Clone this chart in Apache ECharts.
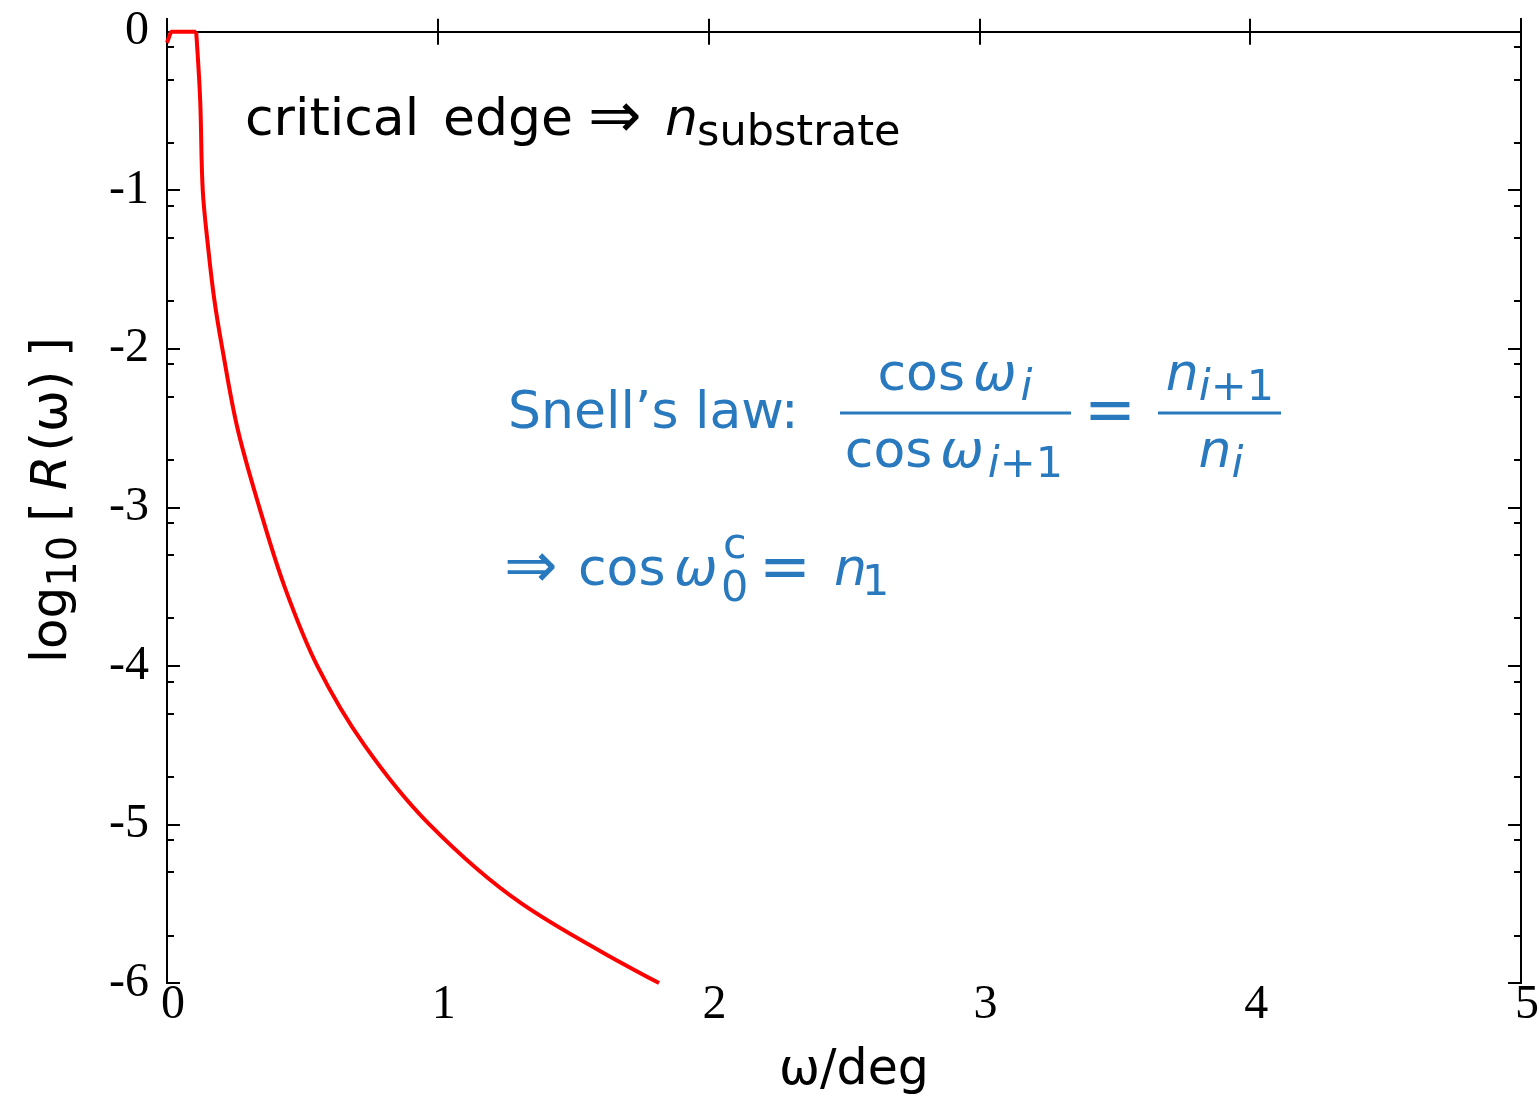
<!DOCTYPE html>
<html>
<head>
<meta charset="utf-8">
<title>Reflectivity near the critical edge</title>
<script src="https://cdn.jsdelivr.net/npm/echarts@6/dist/echarts.min.js"></script>
<style>
  html, body { margin: 0; padding: 0; background: #ffffff; }
  #chart { width: 1539px; height: 1101px; }
</style>
</head>
<body>
<div id="chart"></div>
<script>
// Reflectivity curve: incidence angle (deg) and log10 of the reflectivity
const omegaDeg = [0, 0.015, 0.1077, 0.1225, 0.132, 0.153, 0.175, 0.204, 0.26, 0.341, 0.434, 0.555, 0.729, 0.969, 1.31, 1.817];
const logR     = [-0.07, 0, 0, -0.431, -1.0, -1.378, -1.693, -1.996, -2.5, -3.0, -3.5, -4.0, -4.5, -5.0, -5.5, -6.0];
const edgeIndex = 2;   // last point of the total-reflection plateau

// Axis ticks
const xTicks = [0, 1, 2, 3, 4, 5];
const yTicks = [0, -1, -2, -3, -4, -5, -6];
const yMinorFactors = [0.8, 0.5, 0.2];   // minor ticks inside each decade
const yMax = 0.08;

const yMinorTicks = [];
yTicks.slice(0, -1).forEach(d => yMinorFactors.forEach(f => yMinorTicks.push(d + Math.log10(f))));

const BLUE = '#2979be';
const SANS = '"DejaVu Sans"';
const SERIF = '"Liberation Serif"';
const S = 52, SUB = 43;

// text measuring for the math annotations
const mctx = document.createElement('canvas').getContext('2d');
function fontOf(size, italic) { return (italic ? 'italic ' : '') + size + 'px ' + SANS; }
function textWidth(t, size, italic) { mctx.font = fontOf(size, italic); return mctx.measureText(t).width; }
function midToBase(size, italic) {
  mctx.font = fontOf(size, italic);
  mctx.textBaseline = 'middle';
  return mctx.measureText('H').actualBoundingBoxDescent;
}
function runWidth(pieces) {
  return pieces.reduce((w, p) => w + (p.gap || 0) + textWidth(p.t, p.size || S, p.it), 0);
}
// lay out text pieces along a baseline; a piece may pin its own x with "at"
function run(pieces, x0, base, color) {
  let x = x0;
  const els = [];
  pieces.forEach(p => {
    const size = p.size || S;
    if (p.at !== undefined) x = p.at;
    x += p.gap || 0;
    els.push({
      type: 'text', silent: true,
      x: x, y: base + (p.dy || 0) - midToBase(size, p.it),
      style: { text: p.t, font: fontOf(size, p.it), fill: color, align: 'left', verticalAlign: 'middle' }
    });
    x += textWidth(p.t, size, p.it);
  });
  return els;
}
function centered(pieces, cx, base, color) {
  return run(pieces, cx - runWidth(pieces) / 2, base, color);
}
function bar(x1, x2, y, color) {
  return { type: 'rect', silent: true, shape: { x: x1, y: y - 1.5, width: x2 - x1, height: 3 }, style: { fill: color } };
}

const graphics = [];

// critical edge => n_substrate
graphics.push(...run([
  { t: 'critical', at: 245 },
  { t: 'edge', at: 443 },
  { t: '⇒', size: 64, dy: 2, at: 588 },
  { t: 'n', it: true, at: 665 },
  { t: 'substrate', size: SUB, dy: 10, at: 697 }
], 0, 135, '#000000'));

// Snell's law
graphics.push(...run([{ t: 'Snell’s law:' }], 508, 428, BLUE));
graphics.push(...centered([
  { t: 'cos' }, { t: 'ω', it: true, gap: 8 }, { t: 'i', it: true, size: SUB, dy: 10, gap: 4 }
], 955, 390, BLUE));
graphics.push(...centered([
  { t: 'cos' }, { t: 'ω', it: true, gap: 8 }, { t: 'i', it: true, size: SUB, dy: 10, gap: 4 }, { t: '+1', size: SUB, dy: 10 }
], 954, 467, BLUE));
graphics.push(bar(840, 1071, 413, BLUE));
graphics.push(...run([{ t: '=', size: 62 }], 1084, 431, BLUE));
graphics.push(...centered([
  { t: 'n', it: true }, { t: 'i', it: true, size: SUB, dy: 10 }, { t: '+1', size: SUB, dy: 10 }
], 1220, 390, BLUE));
graphics.push(...centered([
  { t: 'n', it: true }, { t: 'i', it: true, size: SUB, dy: 10 }
], 1221, 467, BLUE));
graphics.push(bar(1158, 1281, 413, BLUE));

// => cos w0^c = n1
graphics.push(...run([
  { t: '⇒', size: 64, dy: 2, at: 504 },
  { t: 'cos', at: 578 },
  { t: 'ω', it: true, at: 674 },
  { t: 'c', size: SUB, dy: -27, at: 723 },
  { t: '0', size: SUB, dy: 16, at: 721 },
  { t: '=', size: 62, dy: 3, at: 759 },
  { t: 'n', it: true, at: 834 },
  { t: '1', size: SUB, dy: 10, at: 862 }
], 0, 585, BLUE));

// vertical axis title: log10[ R(w) ]
const yTitle = [
  { t: 'log', size: 50 },
  { t: '10', size: 40, dy: 10 },
  { t: '[', size: 50, gap: 14 },
  { t: 'R', size: 50, it: true, gap: 12 },
  { t: '(ω)', size: 50, gap: 4 },
  { t: ']', size: 50, gap: 14 }
];
const yTitleW = runWidth(yTitle);
graphics.push({
  type: 'group',
  x: 66, y: 500 + yTitleW / 2,
  rotation: Math.PI / 2,
  children: run(yTitle, 0, 0, '#000000')
});

const frameLine = { show: true, lineStyle: { color: '#000000', width: 2 } };
const majorTick = { show: true, inside: true, length: 13, lineStyle: { color: '#000000', width: 2 } };

function yAxisDef(position, ticks, len, withLabels) {
  return {
    type: 'value', position: position, min: -6, max: yMax, interval: 1,
    axisLine: frameLine,
    axisTick: { show: true, inside: true, length: len, customValues: ticks, lineStyle: { color: '#000000', width: 2 } },
    axisLabel: withLabels ? {
      show: true, customValues: yTicks, margin: 18, padding: [0, 0, 12, 0],
      fontFamily: SERIF, fontSize: 48, color: '#000000'
    } : { show: false },
    splitLine: { show: false }
  };
}

const points = omegaDeg.map((x, i) => [x, logR[i]]);
const redLine = { color: '#ff0000', width: 4 };

const chart = echarts.init(document.getElementById('chart'), null, { renderer: 'canvas' });
chart.setOption({
  backgroundColor: '#ffffff',
  animation: false,
  grid: { left: 167, right: 18, top: 19, bottom: 118, outerBoundsMode: 'none', containLabel: false },
  xAxis: [
    {
      type: 'value', position: 'bottom', min: 0, max: 5, interval: 1,
      axisLine: frameLine, axisTick: Object.assign({ customValues: xTicks }, majorTick),
      axisLabel: {
        show: true, customValues: xTicks, margin: -2, padding: [0, 0, 0, 12],
        fontFamily: SERIF, fontSize: 48, color: '#000000'
      },
      splitLine: { show: false },
      name: 'ω/deg', nameLocation: 'middle', nameGap: 64,
      nameTextStyle: { fontFamily: SANS, fontSize: 49, color: '#000000', padding: [0, 0, 0, 20] }
    },
    {
      type: 'value', position: 'top', min: 0, max: 5, interval: 1,
      axisLine: frameLine, axisTick: Object.assign({ customValues: xTicks }, majorTick),
      axisLabel: { show: false }, splitLine: { show: false }
    }
  ],
  yAxis: [
    yAxisDef('left', yTicks, 13, true),
    yAxisDef('left', yMinorTicks, 7, false),
    yAxisDef('right', yTicks, 13, false),
    yAxisDef('right', yMinorTicks, 7, false)
  ],
  series: [
    {
      // total-reflection plateau
      type: 'line', xAxisIndex: 0, yAxisIndex: 0,
      data: points.slice(0, edgeIndex + 1),
      showSymbol: false, smooth: false,
      lineStyle: redLine, clip: true
    },
    {
      // decay beyond the critical edge
      type: 'line', xAxisIndex: 0, yAxisIndex: 0,
      data: points.slice(edgeIndex),
      showSymbol: false, smooth: 0.35,
      lineStyle: redLine, clip: true
    }
  ],
  graphic: graphics
});
</script>
</body>
</html>
